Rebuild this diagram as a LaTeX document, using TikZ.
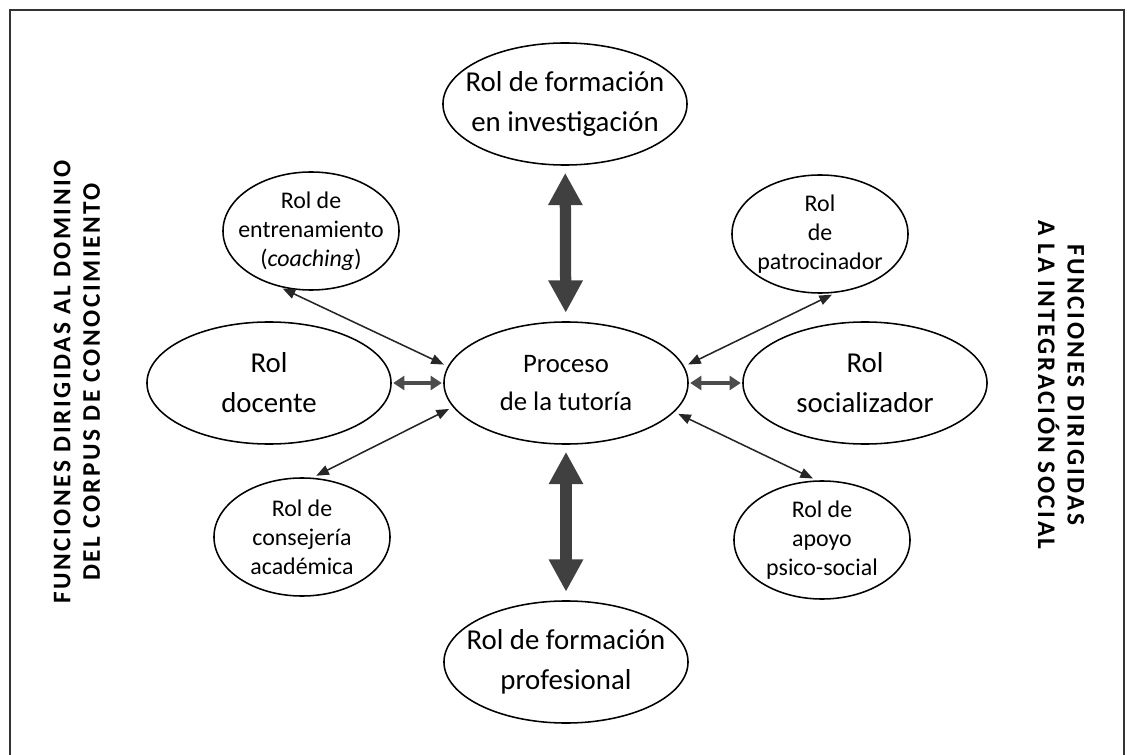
\documentclass[tikz,border=0pt]{standalone}
\usepackage{fontspec}
\setmainfont{Carlito}
\newfontfamily\sidefont[LetterSpace=10]{Carlito}
\usetikzlibrary{shapes.geometric,arrows.meta}

\begin{document}
\begin{tikzpicture}[x=0.025cm, y=-0.025cm,
                    rolbig/.style={ellipse, draw, line width=1.1pt, inner sep=0pt,
                                   minimum width=6.1cm, minimum height=3.05cm},
                    rolsmall/.style={ellipse, draw, line width=1.1pt, inner sep=0pt,
                                     minimum width=4.4cm, minimum height=2.95cm},
                    bigtxt/.style={align=center, font=\fontsize{20.5}{28.5}\selectfont},
                    midtxt/.style={align=center, font=\fontsize{19}{27}\selectfont},
                    smalltxt/.style={align=center, font=\fontsize{17}{20.5}\selectfont},
                    sidetxt/.style={align=center, font=\sidefont\bfseries\fontsize{18}{21}\selectfont},
                    thinlink/.style={{Triangle[length=9pt,width=7pt]}-{Triangle[length=9pt,width=7pt]},
                                     line width=1.1pt, black!85, shorten <=3pt, shorten >=3pt},
                    shortlink/.style={{Triangle[length=8pt,width=10pt]}-{Triangle[length=8pt,width=10pt]},
                                      line width=3.5pt, black!70, shorten <=1pt, shorten >=1pt},
                    biglink/.style={{Triangle[length=23pt,width=23pt]}-{Triangle[length=23pt,width=23pt]},
                                    line width=8pt, black!75, shorten <=5pt, shorten >=6pt}]
\useasboundingbox (0,0) rectangle (1127,755);
\draw[line width=1pt, black!80] (10,755) -- (10,10) -- (1124,10) -- (1124,755); % frame

% center
\node[rolbig, label={[midtxt]center:Proceso\\de la tutoría}] (proc) at (566,383) {};
% roles
\node[rolbig, label={[bigtxt]center:Rol de formación\\en investigación}] (inv) at (565,104) {};
\node[rolbig, label={[bigtxt]center:Rol de formación\\profesional}] (prof) at (566,662) {};
\node[rolbig, label={[bigtxt]center:Rol\\docente}] (doc) at (269,383) {};
\node[rolbig, label={[bigtxt]center:Rol\\socializador}] (soc) at (865,383) {};
\node[rolsmall, label={[smalltxt]center:Rol de\\entrenamiento\\(\textit{coaching})}] (entr) at (311,231) {};
\node[rolsmall, label={[smalltxt]center:Rol de\\consejería\\académica}] (cons) at (302,537) {};
\node[rolsmall, label={[smalltxt]center:Rol\\de\\patrocinador}] (patr) at (820,234) {};
\node[rolsmall, label={[smalltxt]center:Rol de\\apoyo\\psico-social}] (apoyo) at (822,540) {};

\draw[biglink] (inv) -- (proc);
\draw[biglink] (proc) -- (prof);
\draw[shortlink] (doc) -- (proc);
\draw[shortlink] (proc) -- (soc);
\draw[thinlink] (entr.240) -- (proc.172);
\draw[thinlink] (cons.80) -- (proc.192);
\draw[thinlink] (patr.285) -- (proc.8);
\draw[thinlink] (apoyo.95) -- (proc.345);

% side titles
\node[sidetxt, rotate=90] (domin) at (77,382) {FUNCIONES DIRIGIDAS AL DOMINIO\\DEL CORPUS DE CONOCIMIENTO};
\node[sidetxt, rotate=-90] (integ) at (1061,385) {FUNCIONES DIRIGIDAS\\A LA INTEGRACIÓN SOCIAL};
\end{tikzpicture}
\end{document}
